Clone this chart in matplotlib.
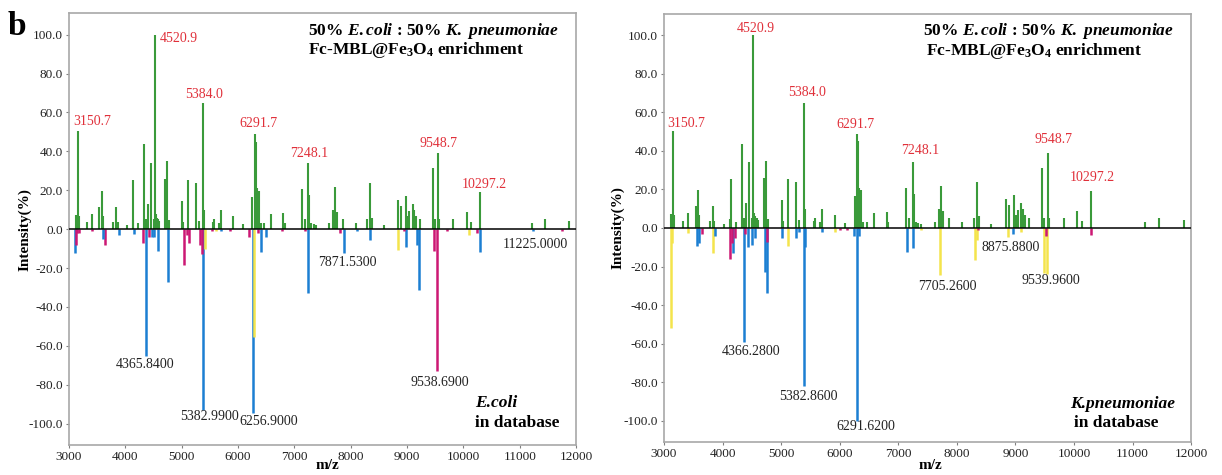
import numpy as np
import matplotlib
matplotlib.use('Agg')
import matplotlib.pyplot as plt
from matplotlib.ticker import FormatStrFormatter

plt.rcParams['font.family'] = 'Liberation Serif'
plt.rcParams['mathtext.fontset'] = 'custom'
plt.rcParams['mathtext.rm'] = 'Liberation Serif:bold'
plt.rcParams['mathtext.it'] = 'Liberation Serif:bold:italic'
plt.rcParams['mathtext.bf'] = 'Liberation Serif:bold'
plt.rcParams['mathtext.default'] = 'rm'

# measured spectrum of the 50:50 mixture (positive side, both panels)
sample_mz = [3125, 3150.7, 3175, 3325, 3402, 3538, 3580, 3605, 3783, 3834, 3860,
             4024, 4130, 4141, 4230, 4337, 4360, 4408, 4456, 4500, 4520.9, 4540,
             4560, 4580, 4600, 4710, 4745, 4770, 5011, 5030, 5118, 5249, 5300,
             5384.0, 5400, 5562, 5580, 5660, 5690, 5912, 6083, 6254, 6291.7, 6310,
             6335, 6370, 6400, 6460, 6580, 6804, 6830, 7130, 7183, 7248.1, 7265,
             7300, 7340, 7380, 7620, 7691, 7727, 7760, 7858, 8094, 8295, 8343,
             8370, 8591, 8845, 8887, 8982, 9005, 9040, 9100, 9130, 9165, 9235,
             9455, 9490, 9548.7, 9570, 9822, 10059, 10140, 10297.2, 11212, 11449,
             11880]
sample_int = [7.5, 50.5, 7, 3.5, 8, 11.5, 19.7, 7, 3.5, 11.5, 3.5,
              2, 4.7, 25.3, 3, 43.6, 5, 13, 34, 5, 100, 8,
              6, 5, 4, 26, 35, 4.5, 14.5, 3.5, 25.3, 24, 4,
              65, 10, 3.5, 5, 3, 10, 7, 2.5, 16.6, 49, 45,
              21, 19.6, 3, 3, 8, 8.5, 3, 20.6, 5, 34.2, 17.5,
              3, 2.5, 2, 3, 9.8, 21.6, 9, 5, 3, 5, 23.9,
              6, 2, 15, 12, 17, 7, 9.3, 13, 10, 7, 5,
              31.3, 5, 39, 5, 5, 9, 3.5, 19.2, 3, 5,
              4]
sample_labels = [3150.7, 4520.9, 5384.0, 6291.7, 7248.1, 9548.7, 10297.2]

# E. coli reference spectrum (b = blue, m = magenta, y = yellow)
ecoli_mz = [3101, 3125, 3150, 3180, 3402, 3597, 3640, 3893, 4160, 4320, 4365.84,
            4420, 4475, 4515, 4574, 4751, 5047, 5090, 5120, 5330, 5360, 5382.99,
            5410, 5530, 5600, 5700, 5850, 6200, 6256.9, 6290, 6345, 6400, 6500,
            6780, 7190, 7248, 7800, 7871.53, 8110, 8343, 8845, 8950, 8976, 9180,
            9213, 9479, 9538.69, 9700, 10105, 10240, 10289, 11225.0, 11740]
ecoli_int = [-12.2, -8, -2, -2, -1, -5, -8, -3, -2.5, -7, -65,
             -4, -4, -4, -11, -27, -18.5, -3, -7, -8, -13, -92.8,
             -10, -1, -1, -1, -1, -4, -94.7, -55.5, -2, -11.7, -4,
             -1, -1, -33, -2, -12.5, -1, -5.7, -10.8, -1, -9, -8,
             -31.4, -11, -72.7, -1, -3, -2, -11.7, -1, -1]
ecoli_group = ['b', 'm', 'm', 'm', 'm', 'b', 'm', 'b', 'b', 'm', 'b',
               'm', 'b', 'b', 'b', 'b', 'm', 'm', 'm', 'm', 'm', 'b',
               'y', 'm', 'y', 'b', 'm', 'm', 'b', 'y', 'm', 'b', 'b',
               'm', 'm', 'b', 'm', 'b', 'b', 'b', 'y', 'm', 'b', 'b',
               'b', 'm', 'm', 'm', 'y', 'm', 'b', 'b', 'm']
ecoli_labels = [4365.84, 5382.99, 6256.9, 7871.53, 9538.69, 11225.0]

# K. pneumoniae reference spectrum
kpn_mz = [3120, 3140, 3405, 3559, 3590, 3640, 3833, 3870, 4129, 4160, 4180,
          4210, 4366.28, 4390, 4440, 4500, 4560, 4723, 4757, 4760, 5019, 5120,
          5250, 5310, 5382.86, 5400, 5700, 5920, 6010, 6120, 6240, 6291.62, 6330,
          7153, 7249, 7380, 7705.26, 8309, 8350, 8360, 8875.88, 8960, 9100,
          9490, 9539.96, 9515, 10289]
kpn_int = [-52, -8, -2.6, -9.3, -8, -3, -13, -4, -16, -8, -13,
           -5, -59, -3, -9.6, -9, -5, -22.8, -33.7, -7.5, -5, -9.3,
           -5, -2, -82, -10, -2, -2, -1, -1, -4, -100, -4,
           -12.7, -10.5, -1, -24.2, -16.5, -6, -1, -4.5, -3, -2,
           -23.4, -24, -4, -3.6]
kpn_group = ['y', 'y', 'y', 'b', 'b', 'm', 'y', 'b', 'm', 'm', 'b',
             'm', 'b', 'm', 'b', 'b', 'b', 'b', 'b', 'm', 'b', 'y',
             'b', 'b', 'b', 'b', 'b', 'y', 'm', 'm', 'b', 'b', 'b',
             'b', 'b', 'y', 'y', 'y', 'y', 'm', 'y', 'b', 'y',
             'y', 'y', 'm', 'm']
kpn_labels = [4366.28, 5382.86, 6291.62, 7705.26, 8875.88, 9539.96]

group_colors = {'b': '#1c7fd2', 'm': '#cc1874', 'y': '#f4e44c'}
green = '#3a9a3a'
red = '#e0303a'

# label offsets in pixels (dx, dy) from the bar tip
left_top_off = [(15, 9), (24, -4), (1, 8), (4, 10), (1, 9), (0, 10), (4, 7)]
right_top_off = [(13, 7), (3, 7), (3, 10), (-1, 9), (7, 12), (6, 13), (1, 13)]
left_bot_off = [(-1, -9), (6, -7), (16, -8), (4, -9), (2, -12), (3, -13)]
right_bot_off = [(7, -10), (5, -10), (9, -6), (8, -12), (3, -11), (4, -6)]


def draw_panel(ax, db_mz, db_int, db_group, db_labels, top_off, bot_off,
               species, species_pos):
    ax.vlines(sample_mz, 0, sample_int, color=green, lw=1.5)
    # taller reference peaks first so short ones stay visible on top
    order = np.argsort(np.abs(db_int))[::-1]
    ax.vlines(np.array(db_mz)[order], 0, np.array(db_int)[order], lw=1.8,
              color=[group_colors[db_group[i]] for i in order])
    ax.axhline(0, color='black', lw=1.1, zorder=3)

    for mz, off in zip(sample_labels, top_off):
        h = sample_int[sample_mz.index(mz)]
        ax.annotate(f'{mz:.1f}', (mz, h), xytext=off, textcoords='offset pixels',
                    ha='center', va='center', color=red, fontsize=10)
    for mz, off in zip(db_labels, bot_off):
        h = db_int[db_mz.index(mz)]
        ax.annotate(f'{mz:.4f}', (mz, h), xytext=off, textcoords='offset pixels',
                    ha='center', va='center', color='#222222', fontsize=10)

    ax.set_xlim(3000, 12000)
    ax.set_ylim(-111, 111)
    ax.set_xticks(np.arange(3000, 12001, 1000))
    ax.set_yticks(np.arange(-100, 101, 20))
    ax.yaxis.set_major_formatter(FormatStrFormatter('%.1f'))
    ax.tick_params(length=2.5, width=0.8, color='#808080', pad=2,
                   labelsize=9.5, labelcolor='#222222')
    for sp in ax.spines.values():
        sp.set_color('#a8a8a8')
        sp.set_linewidth(1.2)

    ax.set_ylabel('Intensity(%)', fontsize=11, fontweight='bold', va='center')
    ax.yaxis.set_label_coords(-0.087, 0.5)
    ax.set_xlabel('m/z', fontsize=11, fontweight='bold')

    ax.text(species_pos[0], 0.96,
            r'50% $\mathit{E.coli}$ : 50% $\mathit{K.\ pneumoniae}$',
            transform=ax.transAxes, fontsize=12.5, fontweight='bold', va='center')
    ax.text(species_pos[0] + species_pos[1], 0.914,
            r'Fc-MBL@Fe$_3$O$_4$ enrichment',
            transform=ax.transAxes, fontsize=12.5, fontweight='bold', va='center')
    ax.text(species_pos[2], species_pos[3], species, transform=ax.transAxes,
            fontsize=12.5, fontweight='bold', style='italic', va='center')
    ax.text(species_pos[4], species_pos[5], 'in database', transform=ax.transAxes,
            fontsize=12.5, fontweight='bold', va='center')


fig = plt.figure(figsize=(12.22, 4.75), dpi=100)
ax1 = fig.add_axes([0.0565, 0.063, 0.415, 0.909])
ax2 = fig.add_axes([0.5434, 0.0695, 0.4313, 0.901])

draw_panel(ax1, ecoli_mz, ecoli_int, ecoli_group, ecoli_labels,
           left_top_off, left_bot_off, 'E.coli',
           (0.471, 0.0, 0.80, 0.097, 0.80, 0.050))
draw_panel(ax2, kpn_mz, kpn_int, kpn_group, kpn_labels,
           right_top_off, right_bot_off, 'K.pneumoniae',
           (0.491, 0.006, 0.770, 0.089, 0.778, 0.044))

ax1.xaxis.set_label_coords(0.509, -0.032)
ax2.xaxis.set_label_coords(0.505, -0.04)

fig.text(0.0065, 0.926, 'b', fontsize=24, fontweight='bold', va='baseline')

fig.savefig('out.png', dpi=100)
